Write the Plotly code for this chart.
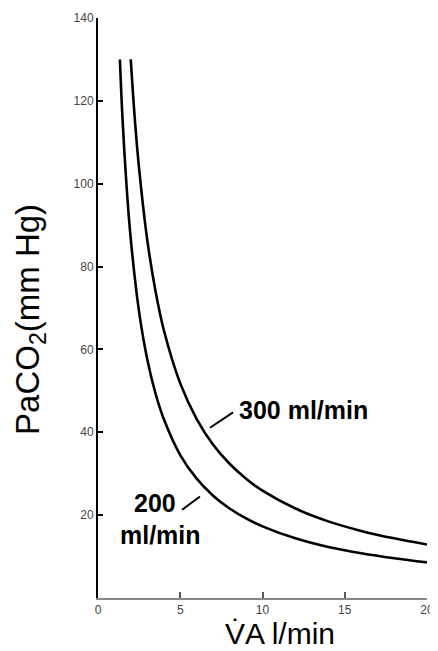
import plotly.graph_objects as go

# Read-off data (VA in l/min, PaCO2 in mm Hg)
va_200 = [1.33, 1.5, 1.75, 2.0, 2.5, 3.0, 3.5, 4.0, 5.0, 6.0, 7.0, 8.0, 9.0, 10, 12, 14, 16, 18, 20]
paco2_200 = [130, 115, 98.6, 86.3, 69, 57.5, 49.3, 43.2, 34.5, 28.8, 24.7, 21.6, 19.2, 17.3, 14.4, 12.3, 10.8, 9.6, 8.6]
va_300 = [1.99, 2.25, 2.5, 3.0, 3.5, 4.0, 5.0, 6.0, 7.0, 8.0, 9.0, 10, 12, 14, 16, 18, 20]
paco2_300 = [130, 115, 103.6, 86.3, 74, 64.7, 51.8, 43.2, 37, 32.4, 28.8, 25.9, 21.6, 18.5, 16.2, 14.4, 12.9]

x_ticks = [0, 5, 10, 15, 20]
y_ticks = [20, 40, 60, 80, 100, 120, 140]

labels = ["300 ml/min", "200", "ml/min"]
label_x = [12.52, 3.47, 3.77]
label_y = [45.5, 23.0, 15.2]
leader_300 = [(6.81, 41.1), (8.21, 44.8)]
leader_200 = [(5.11, 21.3), (6.20, 24.5)]

x_title = "V\u0307A l/min"
y_title = "PaCO<sub>2</sub>(mm Hg)"

fig = go.Figure()
for xs, ys in [(va_200, paco2_200), (va_300, paco2_300)]:
    fig.add_trace(go.Scatter(x=xs, y=ys, mode="lines", line=dict(color="black", width=2.6, shape="spline"),
                             showlegend=False, hoverinfo="skip"))
for ld in [leader_300, leader_200]:
    fig.add_trace(go.Scatter(x=[p[0] for p in ld], y=[p[1] for p in ld], mode="lines",
                             line=dict(color="black", width=2), showlegend=False, hoverinfo="skip"))

for t, x, y in zip(labels, label_x, label_y):
    fig.add_annotation(x=x, y=y, text="<b>" + t + "</b>", showarrow=False, xanchor="center", yanchor="middle",
                       font=dict(family="Liberation Sans", size=25, color="black"))

fig.add_annotation(xref="paper", yref="paper", x=0.553, y=-0.061, text=x_title, showarrow=False,
                   xanchor="center", yanchor="middle", font=dict(family="Liberation Sans", size=30, color="black"))
fig.add_annotation(xref="paper", yref="paper", x=-0.207, y=0.481, text=y_title, showarrow=False,
                   textangle=-90, xanchor="center", yanchor="middle",
                   font=dict(family="Liberation Sans", size=33, color="black"))

# page body has an 8px default margin; size the figure so the plot lands where the reference has it
fig.update_layout(
    width=430, height=643,
    margin=dict(l=90, r=11, t=10, b=53),
    paper_bgcolor="white", plot_bgcolor="white",
    font=dict(family="Liberation Sans", color="black"),
)
fig.update_xaxes(range=[0, 20], tickvals=x_ticks, ticktext=[str(v) for v in x_ticks], automargin=False,
                 ticks="inside", ticklen=6, tickcolor="#555", tickwidth=1.5,
                 showline=True, linecolor="#888", linewidth=1.5, showgrid=False, zeroline=False,
                 tickfont=dict(size=12, color="#444"))
fig.update_yaxes(range=[0, 140], tickvals=y_ticks, ticktext=[str(v) for v in y_ticks], automargin=False,
                 ticks="inside", ticklen=5, tickcolor="black", tickwidth=1.5,
                 showline=True, linecolor="black", linewidth=2, showgrid=False, zeroline=False,
                 tickfont=dict(size=12, color="#444"))

fig.write_html("out.html")
